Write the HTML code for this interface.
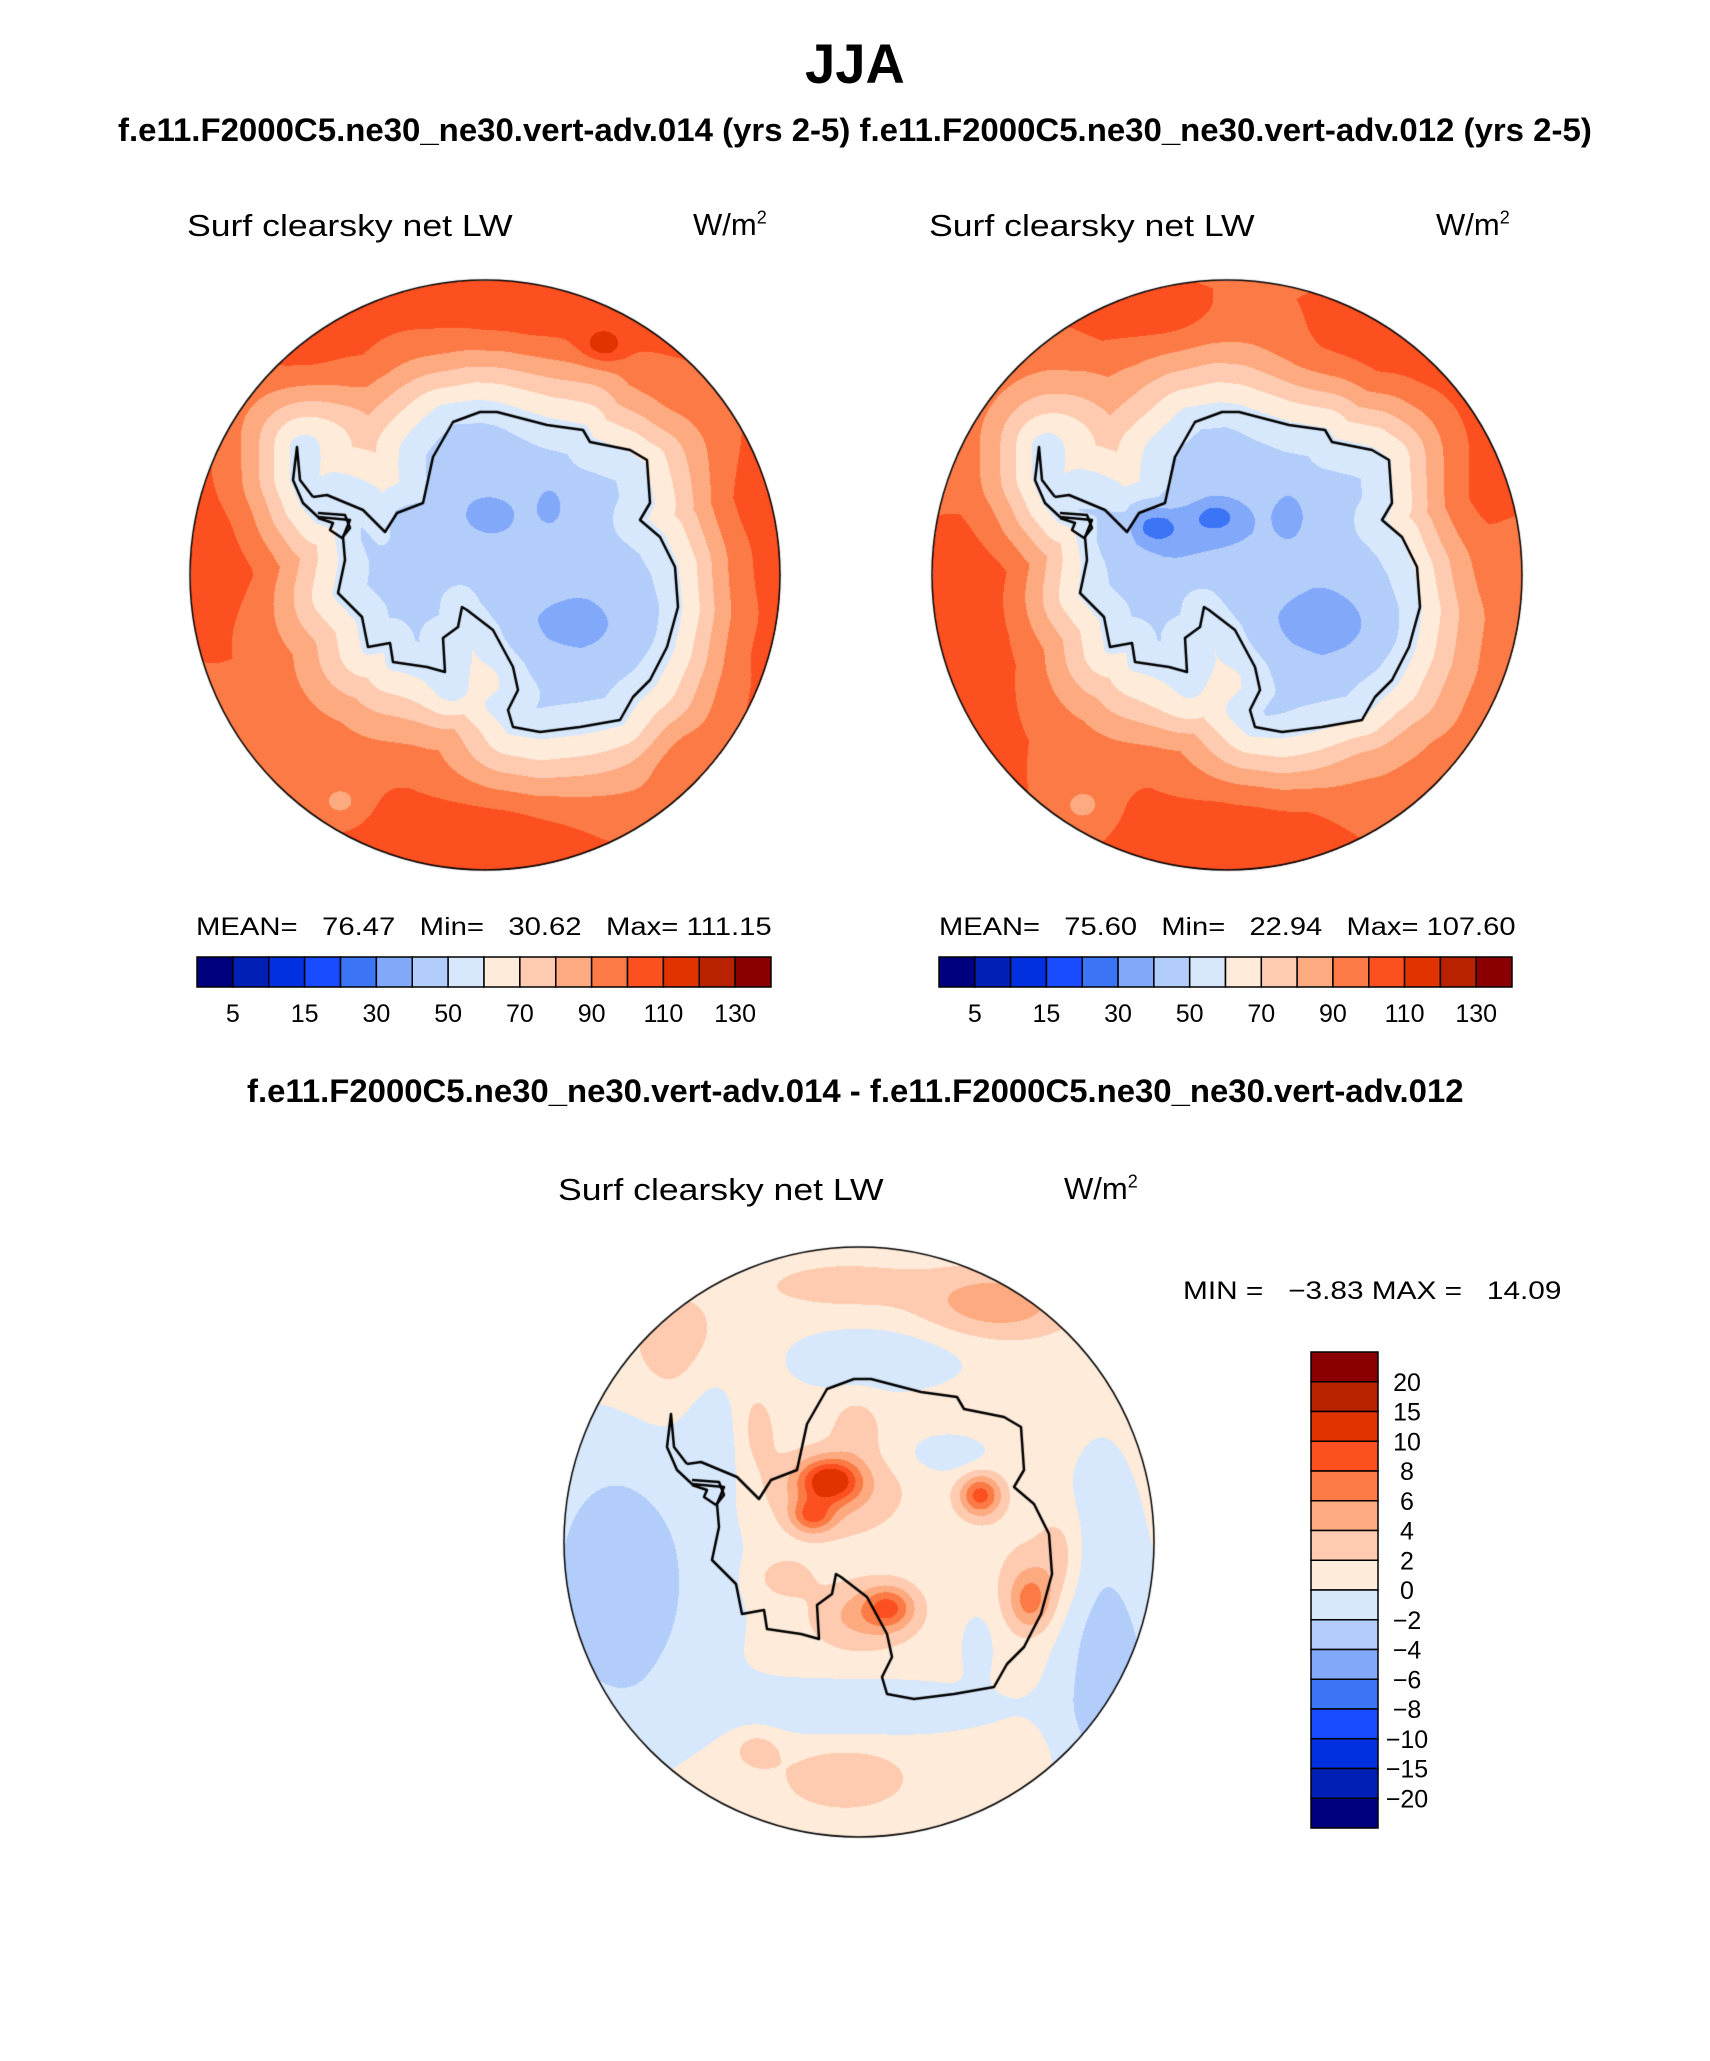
<!DOCTYPE html>
<html><head><meta charset="utf-8"><style>
html,body{margin:0;padding:0;background:#fff;}
body{width:1710px;height:2061px;position:relative;overflow:hidden;font-family:"Liberation Sans",sans-serif;}
.t{position:absolute;white-space:nowrap;color:#000;transform-origin:left top;line-height:1.15;}
canvas{position:absolute;}
</style></head><body>
<div class="t fit" data-w="100" style="left:805px;top:32px;font-size:56px;font-weight:bold;">JJA</div>
<div class="t fit" data-w="1474" style="left:118px;top:112px;font-size:32px;font-weight:bold;">f.e11.F2000C5.ne30_ne30.vert-adv.014 (yrs 2-5) f.e11.F2000C5.ne30_ne30.vert-adv.012 (yrs 2-5)</div>
<div class="t fit" data-w="1217" style="left:247px;top:1073px;font-size:32px;font-weight:bold;">f.e11.F2000C5.ne30_ne30.vert-adv.014 - f.e11.F2000C5.ne30_ne30.vert-adv.012</div>

<div class="t fit" data-w="326" style="left:187px;top:208px;font-size:31px;">Surf clearsky net LW</div>
<div class="t" style="left:693px;top:207px;font-size:31px;">W/m<sup style="font-size:18px">2</sup></div>
<div class="t fit" data-w="326" style="left:929px;top:208px;font-size:31px;">Surf clearsky net LW</div>
<div class="t" style="left:1436px;top:207px;font-size:31px;">W/m<sup style="font-size:18px">2</sup></div>
<div class="t fit" data-w="326" style="left:558px;top:1172px;font-size:31px;">Surf clearsky net LW</div>
<div class="t" style="left:1064px;top:1171px;font-size:31px;">W/m<sup style="font-size:18px">2</sup></div>

<div class="t fit" data-w="576" style="left:196px;top:913px;font-size:25px;">MEAN=&nbsp;&nbsp; 76.47&nbsp;&nbsp; Min=&nbsp;&nbsp; 30.62&nbsp;&nbsp; Max= 111.15</div>
<div class="t fit" data-w="576" style="left:939px;top:913px;font-size:25px;">MEAN=&nbsp;&nbsp; 75.60&nbsp;&nbsp; Min=&nbsp;&nbsp; 22.94&nbsp;&nbsp; Max= 107.60</div>
<div class="t fit" data-w="379" style="left:1183px;top:1277px;font-size:25px;">MIN =&nbsp;&nbsp; −3.83 MAX =&nbsp;&nbsp; 14.09</div>

<canvas id="mapL" width="600" height="600" style="left:185px;top:275px"></canvas>
<canvas id="mapR" width="600" height="600" style="left:927px;top:275px"></canvas>
<canvas id="mapD" width="600" height="600" style="left:559px;top:1242px"></canvas>
<svg id="bars" width="1710" height="2061" style="position:absolute;left:0;top:0"></svg>

<script>
// ---- data ----
const colors = ["#00007f","#001fb5","#0030e0","#1a4cff","#3b74f5","#82a8fa","#b3cdfa","#d7e8fc","#feebd9","#fecbb0","#fdaa80","#fc7a45","#fc5020","#e03300","#b82200","#8a0000"];
const meanLevels = [5,10,15,20,30,40,50,60,70,80,90,100,110,120,130];
const meanTickLabels = ["5","15","30","50","70","90","110","130"];
const diffLevels = [-20,-15,-10,-8,-6,-4,-2,0,2,4,6,8,10,15,20];
const diffTickLabels = ["20","15","10","8","6","4","2","0","−2","−4","−6","−8","−10","−15","−20"];
// signed distance from coast -> value
const profileD = [-0.3,-0.15,-0.05,0,0.06,0.13,0.2,0.28,0.42,0.7];
const leftProfile = [45,47,52,57,64,74,83,91,97,99.5];
const rightProfile = [44,47,52,57,64,74,83,91,97,99.5];
// blobs: x, y (normalized), sigmaX, amplitude, sigmaY
const leftBlobs = [[-0.85,-0.22,0.15,12,0.3],[0.1,-0.87,0.4,10,0.12],[0.88,0.0,0.12,11,0.45],[0.6,-0.55,0.12,8,0.15],[0.0,0.87,0.3,11,0.12],[-0.6,-0.72,0.15,9,0.12],[0.4,-0.78,0.05,18,0.04],[0.62,0.62,0.1,8,0.08],
 [-0.35,-0.45,0.22,-13,0.16],[0.01,-0.2,0.08,-8,0.06],[0.22,-0.24,0.04,-8,0.06],[-0.25,-0.17,0.07,-7,0.06],[0.27,0.17,0.2,-8,0.1],[-0.05,0.27,0.06,-7,0.05],[-0.08,0.42,0.1,-10,0.06],[-0.49,0.77,0.06,-12,0.05]];
const rightBlobs = [[-0.8,-0.1,0.16,12,0.45],[0.45,-0.75,0.22,11,0.14],[0.8,-0.25,0.14,11,0.35],[0.1,0.82,0.28,11,0.12],[0.5,0.6,0.12,9,0.08],[-0.25,-0.88,0.18,10,0.08],[-0.49,0.78,0.06,-12,0.05],
 [-0.4,-0.42,0.22,-13,0.16],[-0.25,-0.17,0.07,-18,0.05],[-0.04,-0.2,0.06,-16,0.04],[-0.15,-0.13,0.18,-7,0.08],[0.3,0.17,0.2,-9,0.1],[-0.05,0.28,0.06,-8,0.05],[0.21,-0.21,0.04,-8,0.06],[-0.1,0.45,0.15,-9,0.07]];
const diffBase = 0.9;
const diffBlobs = [[-0.10,-0.21,0.07,9,0.05],[-0.16,-0.09,0.05,6,0.04],[-0.1,-0.17,0.16,3.5,0.1],[0.41,-0.16,0.05,8,0.05],[0.1,0.22,0.06,6,0.05],[0.0,0.25,0.12,3.5,0.08],[0.58,0.2,0.05,5,0.07],[0.6,0.12,0.1,2,0.12],[-0.26,0.12,0.07,2.5,0.05],
 [0.47,-0.81,0.18,4.5,0.08],[-0.05,-0.87,0.2,2,0.06],[-0.05,0.8,0.14,3,0.07],[-0.35,0.7,0.06,2.5,0.05],[-0.01,-0.4,0.06,2,0.08],[-0.35,-0.38,0.05,2,0.1],[-0.6,-0.65,0.15,2.5,0.15],[0.68,0.03,0.05,2,0.1],
 [-0.78,0.15,0.25,-3.4,0.4],[-0.88,0.12,0.14,-1.1,0.3],[0.05,-0.62,0.22,-2.6,0.08],[-0.5,-0.4,0.07,-2.2,0.2],[0.3,-0.3,0.1,-2.2,0.05],[0.0,0.56,0.35,-2.6,0.07],[0.82,0.3,0.12,-2.6,0.45],[0.88,0.55,0.12,-2.2,0.25],[0.4,0.35,0.04,-2.2,0.08]];
// coastline (pixel coords of left map: center 485,575, radius 295)
const coast = [[313,497],[327,495],[363,510],[385,532],[397,513],[423,503],[433,457],[453,422],[480,412],[497,412],[547,425],[583,430],[590,442],[630,450],[647,460],[650,503],[640,520],[660,537],[675,567],[678,607],[667,647],[650,680],[633,697],[620,720],[580,727],[540,732],[513,727],[508,710],[518,690],[513,667],[493,630],[467,610],[462,607],[458,627],[443,638],[445,672],[427,667],[393,662],[390,643],[368,647],[362,617],[338,593],[345,560],[343,537],[350,520],[318,517],[303,503],[293,480],[297,447],[300,480],[313,497]];
const shelf = [[318,513],[345,515],[350,528],[342,538],[330,530],[333,523],[318,518]];

const coastN = coast.map(p=>[(p[0]-485)/295,(p[1]-575)/295]);
const shelfN = shelf.map(p=>[(p[0]-485)/295,(p[1]-575)/295]);
function interp(xs,ys,x){ if(x<=xs[0])return ys[0]; for(let i=1;i<xs.length;i++){ if(x<=xs[i]){const f=(x-xs[i-1])/(xs[i]-xs[i-1]);return ys[i-1]+f*(ys[i]-ys[i-1]);}} return ys[ys.length-1]; }
function colorIdx(levels,v){ let i=0; while(i<levels.length&&v>=levels[i]) i++; return i; }
function hex(c){return [parseInt(c.substr(1,2),16),parseInt(c.substr(3,2),16),parseInt(c.substr(5,2),16)];}
const rgb=colors.map(hex);
function signedDist(px,py){
  let md=1e9, inside=false;
  for(let i=0;i<coastN.length-1;i++){
    const [x1,y1]=coastN[i],[x2,y2]=coastN[i+1];
    const ex=x2-x1, ey=y2-y1, L=ex*ex+ey*ey;
    let t=L?((px-x1)*ex+(py-y1)*ey)/L:0; t=Math.max(0,Math.min(1,t));
    const d=Math.hypot(px-x1-t*ex,py-y1-t*ey); if(d<md)md=d;
    if((y1>py)!==(y2>py) && px < x1+(py-y1)*ex/ey) inside=!inside;
  }
  return inside?-md:md;
}
function blobSum(bl,nx,ny){ let s=0; for(const b of bl){const sy=b[4]||b[2]; s+=b[3]*Math.exp(-((nx-b[0])**2)/(2*b[2]*b[2])-((ny-b[1])**2)/(2*sy*sy));} return s; }
function drawMap(id,fieldFn,levels){
  const cv=document.getElementById(id), ctx=cv.getContext('2d');
  const R=295, C=300; const img=ctx.createImageData(600,600);
  for(let y=0;y<600;y++)for(let x=0;x<600;x++){
    const nx=(x-C)/R, ny=(y-C)/R, r=Math.hypot(nx,ny); if(r>1) continue;
    const v=fieldFn(nx,ny); const c=rgb[colorIdx(levels,v)]; const o=(y*600+x)*4;
    img.data[o]=c[0];img.data[o+1]=c[1];img.data[o+2]=c[2];img.data[o+3]=255;
  }
  ctx.putImageData(img,0,0);
  ctx.strokeStyle='#000'; ctx.lineWidth=2.5; ctx.lineJoin='round';
  [coastN,shelfN].forEach(pl=>{ctx.beginPath(); pl.forEach((p,i)=>{const X=C+p[0]*R,Y=C+p[1]*R; i?ctx.lineTo(X,Y):ctx.moveTo(X,Y);}); ctx.stroke();});
  ctx.lineWidth=1.5; ctx.beginPath(); ctx.arc(C,C,R,0,2*Math.PI); ctx.stroke();
}
function meanField(profile,blobs){ return (nx,ny)=> interp(profileD,profile,signedDist(nx,ny))+blobSum(blobs,nx,ny); }
drawMap('mapL',meanField(leftProfile,leftBlobs),meanLevels);
drawMap('mapR',meanField(rightProfile,rightBlobs),meanLevels);
drawMap('mapD',(nx,ny)=>diffBase+blobSum(diffBlobs,nx,ny),diffLevels);

// colorbars
const svg=document.getElementById('bars'), NS='http://www.w3.org/2000/svg';
function el(tag,attrs){const e=document.createElementNS(NS,tag);for(const k in attrs)e.setAttribute(k,attrs[k]);svg.appendChild(e);return e;}
function hbar(x0,x1,y0,y1,prefix){
  const w=(x1-x0)/colors.length;
  colors.forEach((c,i)=>{const r=el('rect',{x:x0+i*w,y:y0,width:w,height:y1-y0,fill:c,stroke:'#000','stroke-width':1.5});
    
    });
  meanTickLabels.forEach((lab,j)=>{const t=el('text',{x:x0+(2*j+1)*w,y:y1+35,'text-anchor':'middle','font-size':25,'font-family':'Liberation Sans, sans-serif'});t.textContent=lab;
    
    });
}
hbar(197,771,957,987,'left-colorbar');
hbar(939,1512,957,987,'right-colorbar');
(function(){
  const x0=1311,x1=1378,y0=1352,y1=1828,h=(y1-y0)/colors.length;
  colors.forEach((c,i)=>{const r=el('rect',{x:x0,y:y0+i*h,width:x1-x0,height:h,fill:colors[colors.length-1-i],stroke:'#000','stroke-width':1.5});
    
    });
  diffTickLabels.forEach((lab,j)=>{const t=el('text',{x:1407,y:y0+(j+1)*h+9,'text-anchor':'middle','font-size':25,'font-family':'Liberation Sans, sans-serif'});t.textContent=lab;
    
    });
})();
// stretch text to measured widths
document.querySelectorAll('.fit').forEach(e=>{const w=+e.getAttribute('data-w'); e.style.transform='scaleX('+(w/e.offsetWidth)+')';});
</script>
</body></html>
